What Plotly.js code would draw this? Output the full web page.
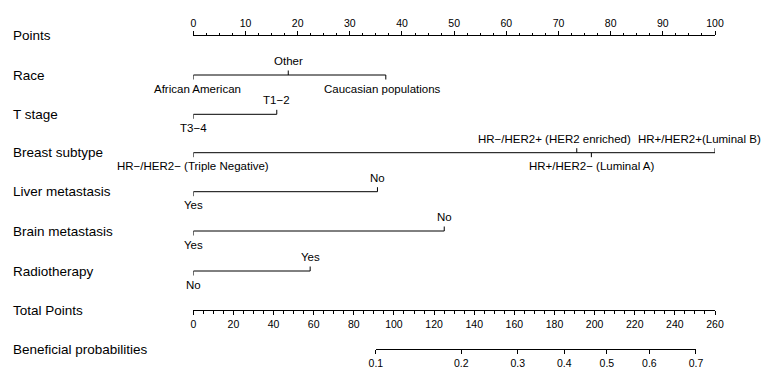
<!DOCTYPE html>
<html>
<head>
<meta charset="utf-8">
<script src="https://cdn.plot.ly/plotly-3.0.1.min.js"></script>
<style>
  html, body { margin: 0; padding: 0; background: #fff; }
  #nomogram { width: 763px; height: 369px; }
</style>
</head>
<body>
<div id="nomogram"></div>
<script>
// ---- nomogram values (points per level) ----
const pointsTicks = [0, 10, 20, 30, 40, 50, 60, 70, 80, 90, 100];

const raceLevels = ["African American", "Other", "Caucasian populations"];
const racePoints = [0, 18.2, 36.9];

const tStageLevels = ["T3\u22124", "T1\u22122"];
const tStagePoints = [0, 16.0];

const subtypeLevels = [
  "HR\u2212/HER2\u2212 (Triple Negative)",
  "HR\u2212/HER2+ (HER2 enriched)",
  "HR+/HER2\u2212 (Luminal A)",
  "HR+/HER2+(Luminal B)"
];
const subtypePoints = [0, 73.5, 76.3, 100];

const liverLevels = ["Yes", "No"];
const liverPoints = [0, 35.3];

const brainLevels = ["Yes", "No"];
const brainPoints = [0, 48.1];

const radioLevels = ["No", "Yes"];
const radioPoints = [0, 22.4];

const totalPointsTicks = [0, 20, 40, 60, 80, 100, 120, 140, 160, 180, 200, 220, 240, 260];

const probLabels = ["0.1", "0.2", "0.3", "0.4", "0.5", "0.6", "0.7"];
const probTotalPoints = [91.0, 133.5, 161.7, 184.9, 206.1, 227.3, 250.5];

// ---- layout geometry (pixels) ----
const W = 763, H = 369;
const axisLeftPx = 193.3, axisRightPx = 715;
const dL = axisLeftPx / W, dR = axisRightPx / W;
const totalMax = 260;
const FONT = "Arial, 'Liberation Sans', Helvetica, sans-serif";
const INK = "#000";

// row placement: vertical position, which labels sit above, horizontal nudge of labels
const rows = [
  { title: "Race", levels: raceLevels, pts: racePoints, y: 75,
    above: [false, true, false], shift: [4, 0, -3] },
  { title: "T stage", levels: tStageLevels, pts: tStagePoints, y: 114.3,
    above: [false, true], shift: [0, 0] },
  { title: "Breast subtype", levels: subtypeLevels, pts: subtypePoints, y: 152.7,
    above: [false, true, false, true], shift: [0, -22, 0, -16] },
  { title: "Liver metastasis", levels: liverLevels, pts: liverPoints, y: 191.7,
    above: [false, true], shift: [0, 0] },
  { title: "Brain metastasis", levels: brainLevels, pts: brainPoints, y: 231,
    above: [false, true], shift: [0, 0] },
  { title: "Radiotherapy", levels: radioLevels, pts: radioPoints, y: 271,
    above: [false, true], shift: [0, 0] }
];

const pointsAxisY = 35, totalAxisY = 310, probAxisY = 349;
const tickLen = 4.5;
const labelAbove = 14, labelBelow = 13.5;

const traces = [];
const annotations = [];

function rowLabel(text, yPx) {
  annotations.push({
    xref: "paper", yref: "y", x: 11 / W, y: yPx,
    xanchor: "left", yanchor: "middle", showarrow: false,
    text: text, font: { family: FONT, size: 13.5, color: INK }
  });
}

rowLabel("Points", pointsAxisY);

rows.forEach(r => {
  const xs = [Math.min(...r.pts), Math.max(...r.pts), null];
  const ys = [r.y, r.y, null];
  r.pts.forEach((p, i) => {
    xs.push(p, p, null);
    ys.push(r.y, r.above[i] ? r.y - tickLen : r.y + tickLen, null);
    annotations.push({
      xref: "x", yref: "y", x: p,
      y: r.above[i] ? r.y - labelAbove : r.y + labelBelow,
      xanchor: "center", yanchor: "middle", xshift: r.shift[i],
      showarrow: false, text: r.levels[i],
      font: { family: FONT, size: 11.5, color: INK }
    });
  });
  traces.push({
    type: "scatter", mode: "lines", x: xs, y: ys,
    xaxis: "x", yaxis: "y",
    line: { color: INK, width: 1 }, connectgaps: false,
    hoverinfo: "skip", showlegend: false
  });
  rowLabel(r.title, r.y);
});

rowLabel("Total Points", totalAxisY);
rowLabel("Beneficial probabilities", probAxisY);

// placeholders so the total-points and probability axes get their own subplots
traces.push({ type: "scatter", mode: "markers", x: [0], y: [-50], xaxis: "x2", yaxis: "y",
  marker: { opacity: 0 }, hoverinfo: "skip", showlegend: false });
traces.push({ type: "scatter", mode: "markers", x: [probTotalPoints[0]], y: [-50], xaxis: "x3", yaxis: "y",
  marker: { opacity: 0 }, hoverinfo: "skip", showlegend: false });

const toDomain = tp => dL + (tp / totalMax) * (dR - dL);
const pos = yPx => 1 - yPx / H;

const axisCommon = {
  showgrid: false, zeroline: false, showline: true,
  linecolor: INK, linewidth: 1,
  ticks: "outside", ticklen: 4, tickwidth: 1, tickcolor: INK,
  tickfont: { family: FONT, size: 10.5, color: INK },
  fixedrange: true, anchor: "free"
};

const layout = {
  width: W, height: H,
  margin: { l: 0, r: 0, t: 0, b: 0, pad: 0 },
  paper_bgcolor: "#fff", plot_bgcolor: "rgba(0,0,0,0)",
  showlegend: false, hovermode: false,
  xaxis: Object.assign({}, axisCommon, {
    domain: [dL, dR], range: [0, 100], side: "top", position: pos(pointsAxisY),
    tickmode: "array", tickvals: pointsTicks, ticktext: pointsTicks.map(String),
    minor: { tickmode: "linear", tick0: 0, dtick: 2.5, ticks: "outside", ticklen: 2.5, tickwidth: 1, tickcolor: INK }
  }),
  xaxis2: Object.assign({}, axisCommon, {
    domain: [dL, dR], range: [0, totalMax], side: "bottom", position: pos(totalAxisY),
    tickmode: "array", tickvals: totalPointsTicks, ticktext: totalPointsTicks.map(String),
    minor: { tickmode: "linear", tick0: 0, dtick: 5, ticks: "outside", ticklen: 2.5, tickwidth: 1, tickcolor: INK }
  }),
  xaxis3: Object.assign({}, axisCommon, {
    domain: [toDomain(probTotalPoints[0]), toDomain(probTotalPoints[probTotalPoints.length - 1])],
    range: [probTotalPoints[0], probTotalPoints[probTotalPoints.length - 1]],
    side: "bottom", position: pos(probAxisY),
    tickmode: "array", tickvals: probTotalPoints, ticktext: probLabels
  }),
  yaxis: {
    domain: [0, 1], range: [H, 0], visible: false, fixedrange: true,
    showgrid: false, zeroline: false, anchor: "x"
  },
  annotations: annotations
};

Plotly.newPlot("nomogram", traces, layout, { displayModeBar: false, staticPlot: true });
</script>
</body>
</html>
